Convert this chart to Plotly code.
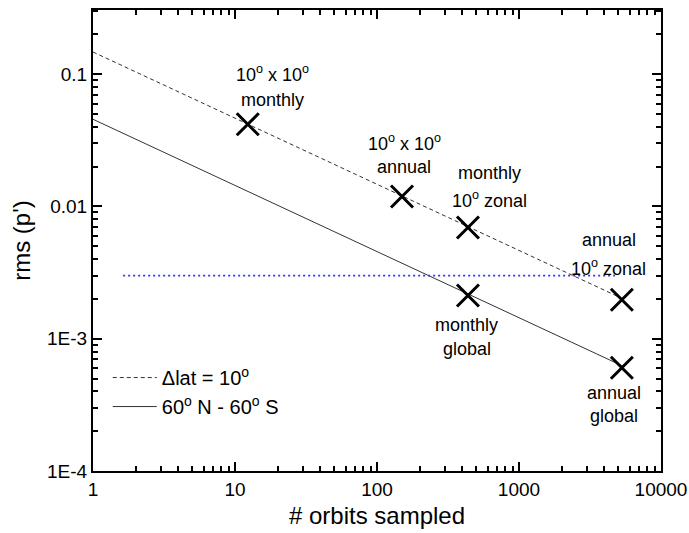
import math
import plotly.graph_objects as go

# Data
pt_x = [12.3, 150, 437, 5300, 437, 5300]
pt_y = [0.0418, 0.0119, 0.00693, 0.00197, 0.00212, 0.000603]
pt_line1 = ["10<sup>o</sup> x 10<sup>o</sup>", "10<sup>o</sup> x 10<sup>o</sup>", "monthly", "annual", "monthly", "annual"]
pt_line2 = ["monthly", "annual", "10<sup>o</sup> zonal", "10<sup>o</sup> zonal", "global", "global"]

dash_x = [1, 5300]
dash_y = [0.147, 0.00202]
solid_x = [1, 5300]
solid_y = [0.0456, 0.000626]
blue_x = [1.63, 4740]
blue_y = [0.003, 0.003]

x_tickvals = [1, 10, 100, 1000, 10000]
x_ticktext = ["1", "10", "100", "1000", "10000"]
y_tickvals = [0.1, 0.01, 0.001, 0.0001]
y_ticktext = ["0.1", "0.01", "1E-3", "1E-4"]

# label placement (pixel offsets from the marker), styling only
lab_dx = [25, 2, 22, -13, -1, -8]
lab_dy1 = [51, 54, 55, 60, -29, -25]
lab_dy2 = [24, 29, 28, 32, -53, -48]

FONT = "Liberation Sans, Arial, sans-serif"

fig = go.Figure()
fig.add_trace(go.Scatter(x=dash_x, y=dash_y, mode="lines",
                         line=dict(color="#333", width=1, dash="4px,3px"),
                         name="\u0394lat = 10<sup>o</sup>"))
fig.add_trace(go.Scatter(x=solid_x, y=solid_y, mode="lines",
                         line=dict(color="#333", width=1),
                         name="60<sup>o</sup> N - 60<sup>o</sup> S"))
fig.add_trace(go.Scatter(x=blue_x, y=blue_y, mode="lines",
                         line=dict(color="#3333ff", width=1.6, dash="2px,3px"),
                         showlegend=False))
fig.add_trace(go.Scatter(x=pt_x, y=pt_y, mode="markers",
                         marker=dict(symbol="x-thin-open", size=22, color="black",
                                     line=dict(color="black", width=3)),
                         showlegend=False))

for i in range(len(pt_x)):
    for txt, dy in ((pt_line1[i], lab_dy1[i]), (pt_line2[i], lab_dy2[i])):
        fig.add_annotation(x=math.log10(pt_x[i]), y=math.log10(pt_y[i]), xref="x", yref="y",
                           text=txt, showarrow=False, xshift=lab_dx[i], yshift=dy,
                           font=dict(size=18, color="black", family=FONT))


def minor_vals(lo, hi):
    return [m * 10 ** e for e in range(lo, hi) for m in range(2, 10)]


axis_common = dict(type="log", showgrid=False, zeroline=False,
                   showline=True, linecolor="black", linewidth=2,
                   ticks="inside", ticklen=9, tickwidth=2, tickcolor="black",
                   mirror="ticks", automargin=False,
                   tickfont=dict(size=19, color="black", family=FONT))

fig.update_xaxes(**axis_common, range=[0, 4],
                 tickmode="array", tickvals=x_tickvals, ticktext=x_ticktext,
                 minor=dict(ticks="inside", ticklen=5, tickwidth=2, tickcolor="black",
                            showgrid=False, tickmode="array", tickvals=minor_vals(0, 4)),
                 title=dict(text="# orbits sampled", font=dict(size=24, color="black", family=FONT),
                            standoff=8))
fig.update_yaxes(**axis_common, range=[-4, -0.515],
                 tickmode="array", tickvals=y_tickvals, ticktext=y_ticktext,
                 minor=dict(ticks="inside", ticklen=5, tickwidth=2, tickcolor="black",
                            showgrid=False, tickmode="array", tickvals=minor_vals(-4, 0)),
                 title=dict(text="rms (p')", font=dict(size=24, color="black", family=FONT),
                            standoff=10))

fig.update_layout(
    width=689, height=533,
    margin=dict(l=93, r=28, t=10, b=62),
    plot_bgcolor="white", paper_bgcolor="white",
    font=dict(family=FONT, color="black"),
    legend=dict(x=0.026, y=0.245, xanchor="left", yanchor="top",
                bgcolor="rgba(0,0,0,0)", font=dict(size=20, color="black", family=FONT),
                itemwidth=44, tracegroupgap=0),
)

fig.write_html("out.html", config={"displayModeBar": False},
               post_script="document.body.style.margin='0';document.body.style.overflow='hidden';")
